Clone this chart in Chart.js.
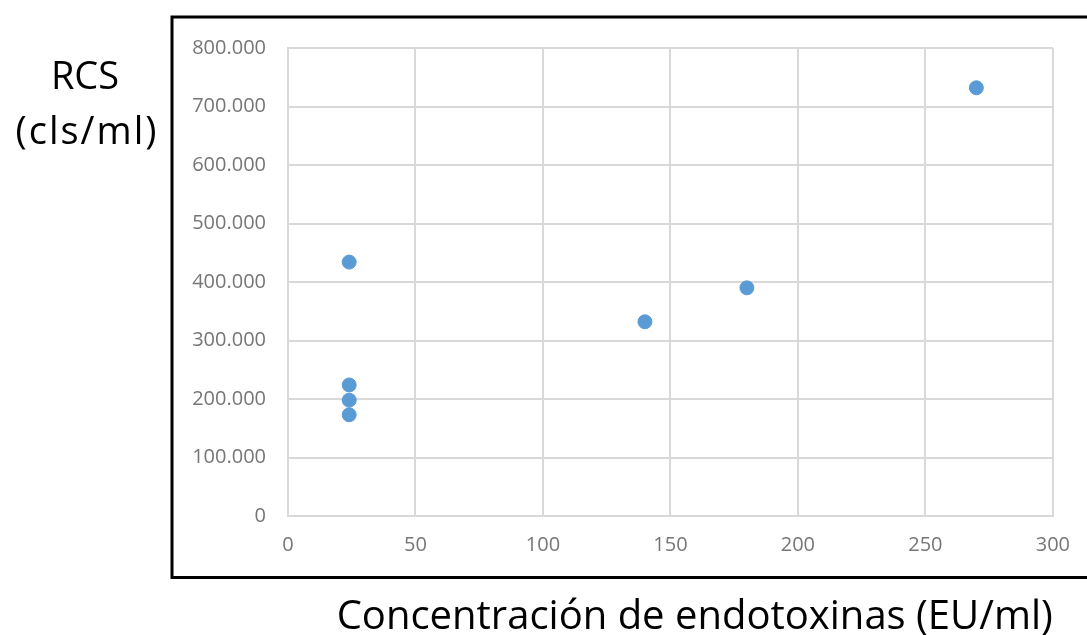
<!DOCTYPE html>
<html>
<head>
<meta charset="utf-8">
<script src="https://cdn.jsdelivr.net/npm/chart.js@4.4.1/dist/chart.umd.min.js"></script>
<style>
  html, body { margin: 0; padding: 0; background: #fff; }
  #wrap { position: relative; width: 1087px; height: 635px; }
</style>
</head>
<body>
<div id="wrap">
  <canvas id="chart" width="1087" height="635"></canvas>
</div>
<script>
// data
const endotoxin = [24, 24, 24, 24, 140, 180, 270];           // EU/ml
const rcs = [434000, 224000, 198000, 173000, 332000, 390000, 732000]; // cls/ml
const xTitle = "Concentración de endotoxinas (EU/ml)";
const yTitleLines = ["RCS", "(cls/ml)"];

const points = endotoxin.map((x, i) => ({ x: x, y: rcs[i] }));

// thousands with a dot, like "800.000"
function dotThousands(v) {
  return String(v).replace(/\B(?=(\d{3})+(?!\d))/g, ".");
}

// black frame and the horizontal y label sitting outside of it
const framePlugin = {
  id: "frame",
  afterDraw(chart) {
    const ctx = chart.ctx;
    ctx.save();
    ctx.strokeStyle = "#000";
    ctx.lineWidth = 3;
    ctx.strokeRect(172, 17, 1000, 560.5);

    ctx.fillStyle = "#000";
    ctx.font = "38px 'Open Sans'";
    ctx.textAlign = "center";
    ctx.textBaseline = "alphabetic";
    ctx.fillText(yTitleLines[0], 85, 89);
    ctx.letterSpacing = "2px";
    ctx.fillText(yTitleLines[1], 87, 144);
    ctx.restore();
  }
};

const gridColor = "#d9d9d9";
const tickColor = "#767676";

new Chart(document.getElementById("chart"), {
  type: "scatter",
  data: {
    datasets: [{
      data: points,
      backgroundColor: "#5b9bd5",
      borderColor: "#5b9bd5",
      pointRadius: 7,
      pointHoverRadius: 7
    }]
  },
  options: {
    responsive: false,
    animation: false,
    layout: { padding: { left: 174, right: 34, top: 48, bottom: 0 } },
    plugins: {
      legend: { display: false },
      tooltip: { enabled: false }
    },
    scales: {
      x: {
        type: "linear",
        min: 0,
        max: 300,
        afterFit(scale) { scale.height = 119; },
        grid: { color: gridColor, lineWidth: 2, drawTicks: false },
        border: { color: gridColor, width: 2 },
        ticks: {
          stepSize: 50,
          padding: 17,
          color: tickColor,
          font: { family: "'Open Sans'", size: 20 }
        },
        title: {
          display: true,
          text: xTitle,
          align: "end",
          color: "#000",
          font: { family: "'Open Sans'", size: 40, lineHeight: 0.85 },
          padding: { top: 0, bottom: 0 }
        }
      },
      y: {
        min: 0,
        max: 800000,
        afterFit(scale) { scale.width = 114; },
        grid: { color: gridColor, lineWidth: 2, drawTicks: false },
        border: { color: gridColor, width: 2 },
        ticks: {
          stepSize: 100000,
          padding: 22,
          color: tickColor,
          font: { family: "'Open Sans'", size: 20 },
          callback: (v) => dotThousands(v)
        }
      }
    }
  },
  plugins: [framePlugin]
});
</script>
</body>
</html>
